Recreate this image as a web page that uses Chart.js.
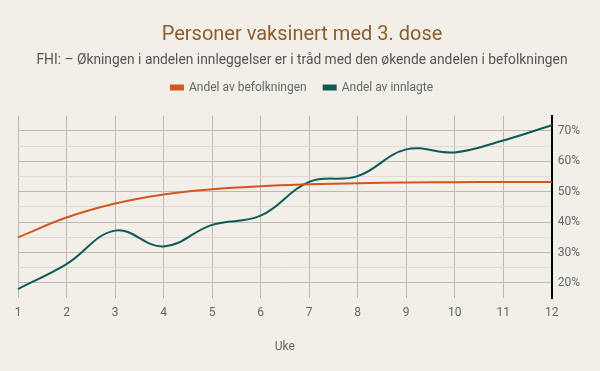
<!DOCTYPE html>
<html><head><meta charset="utf-8">
<script src="https://cdn.jsdelivr.net/npm/chart.js@4"></script>
<style>html,body{margin:0;padding:0;background:#F2EEE8;}#w{width:600px;height:371px;}</style>
</head><body><div id="w"><canvas id="c"></canvas></div>
<script>
const weeks = ['1','2','3','4','5','6','7','8','9','10','11','12'];
const befolkningen = [35, 41.5, 46.1, 49.1, 50.8, 51.8, 52.4, 52.8, 53.0, 53.1, 53.2, 53.2];
const innlagte = [18, 26.2, 37.2, 32, 39.1, 42.1, 53.2, 55.1, 63.9, 62.9, 66.8, 71.8];
const yTicks = [20, 30, 40, 50, 60, 70];

const legendGap = {
  id: 'legendGap',
  beforeInit(chart) {
    const fit = chart.legend.fit;
    chart.legend.fit = function () { fit.bind(chart.legend)(); this.height += 12; };
  }
};

new Chart(document.getElementById('c'), {
  type: 'line',
  data: {
    labels: weeks,
    datasets: [
      {label: 'Andel av befolkningen', data: befolkningen, borderColor: '#D4561F', backgroundColor: '#D4561F', borderWidth: 2, pointRadius: 0, tension: 0.4},
      {label: 'Andel av innlagte', data: innlagte, borderColor: '#0E5A57', backgroundColor: '#0E5A57', borderWidth: 2, pointRadius: 0, tension: 0.4}
    ]
  },
  plugins: [legendGap],
  options: {
    responsive: true, maintainAspectRatio: false, animation: false,
    layout: {padding: {left: 18, right: 14, top: 10, bottom: 13}},
    plugins: {
      title: {display: true, text: 'Personer vaksinert med 3. dose', color: '#8B5E2B', font: {family: 'Roboto', size: 20, weight: 'normal'}, padding: {top: 13, bottom: 5}},
      subtitle: {display: true, text: 'FHI: – Økningen i andelen innleggelser er i tråd med den økende andelen i befolkningen', color: '#555', font: {family: 'Roboto', size: 13.8}, padding: {top: 0, bottom: -4}},
      legend: {labels: {boxWidth: 12, boxHeight: 4, color: '#666', font: {family: 'Roboto', size: 12}, padding: 17}},
      tooltip: {enabled: false}
    },
    scales: {
      x: {
        offset: false,
        grid: {color: '#bdbab5', drawTicks: false},
        border: {display: false},
        ticks: {color: '#666', font: {family: 'Roboto', size: 12}, padding: 8, maxRotation: 0},
        title: {display: true, text: 'Uke', color: '#666', font: {family: 'Roboto', size: 12}, padding: {top: 11}}
      },
      y: {
        position: 'right', min: 15, max: 75,
        afterBuildTicks: (s) => { s.ticks = [15,20,25,30,35,40,45,50,55,60,65,70,75].map(v => ({value: v})); },
        grid: {drawTicks: false, color: (ctx) => { const v = ctx.tick ? ctx.tick.value : 0; if (v === 15 || v === 75) return 'rgba(0,0,0,0)'; return (v % 10 === 0) ? '#bdbab5' : '#dedad4'; }},
        border: {display: true, color: '#000', width: 2},
        ticks: {color: '#666', font: {family: 'Roboto', size: 12}, padding: 6, autoSkip: false,
          callback: (v) => yTicks.includes(v) ? v + '%' : ''}
      }
    }
  }
});
</script></body></html>
